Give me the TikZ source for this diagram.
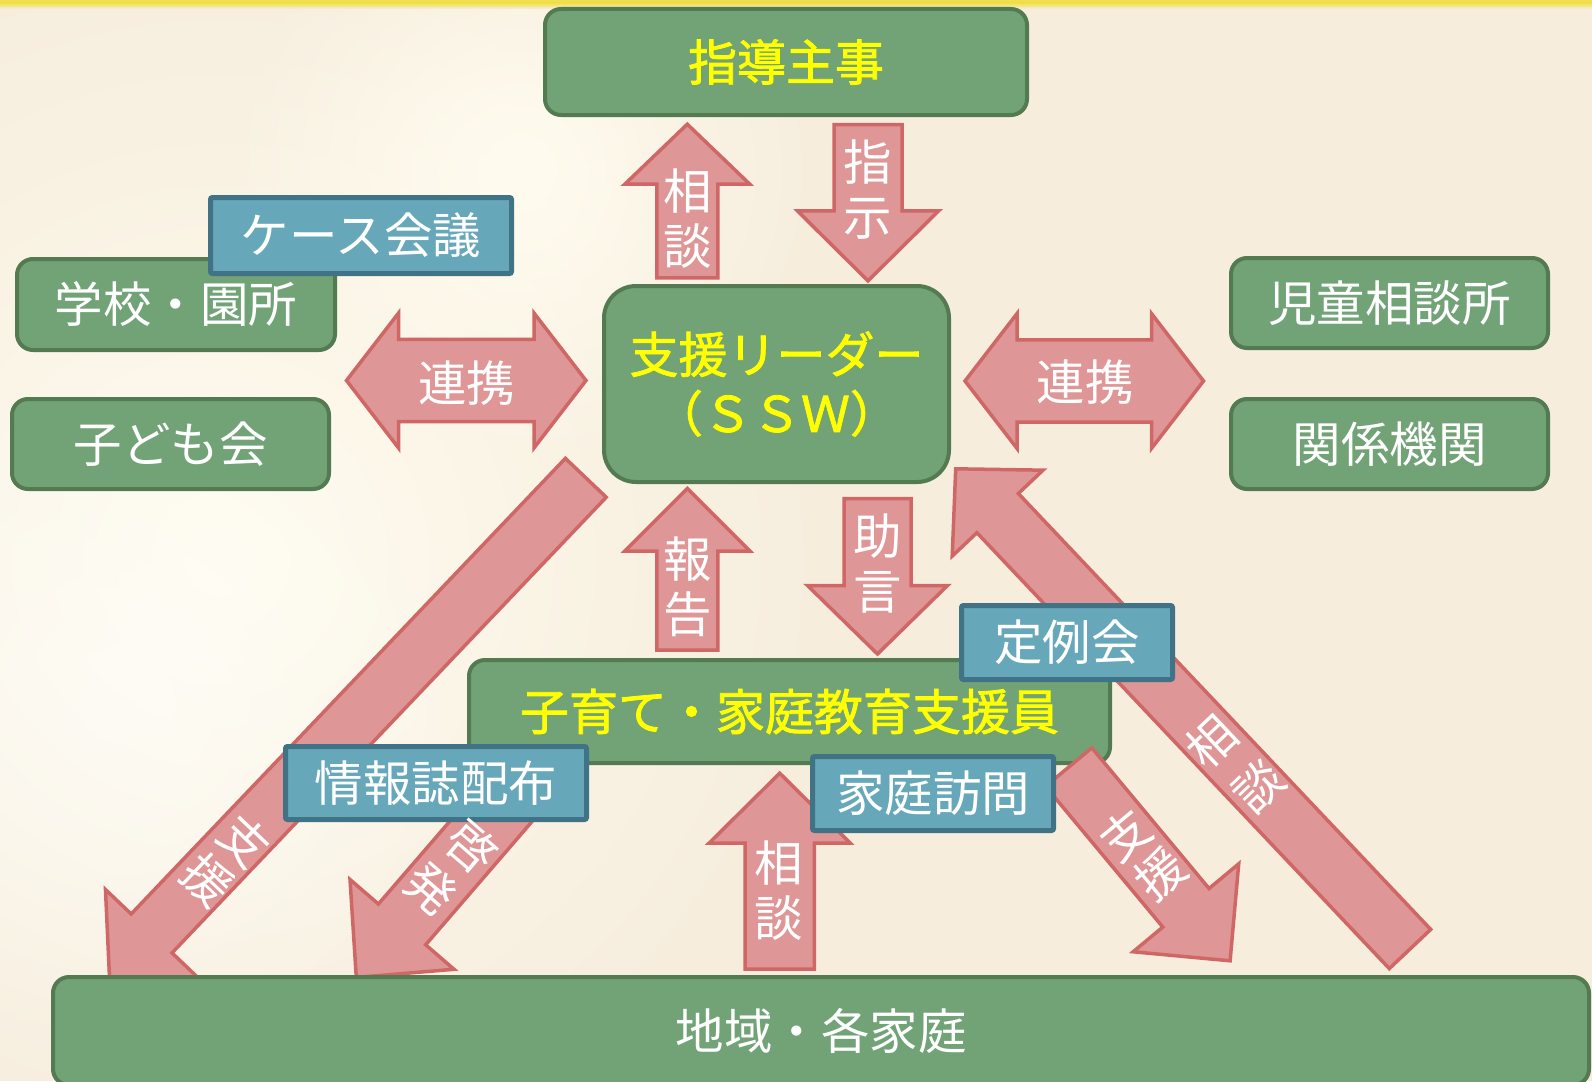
\documentclass[tikz,border=0pt]{standalone}
\usepackage{fontspec}
\setmainfont{Noto Sans CJK JP}
\newfontfamily\yboldfont[FakeBold=1.6]{Noto Sans CJK JP}
\usetikzlibrary{calc,fadings}
\tikzfading[name=myfadeout, inner color=transparent!0, outer color=transparent!100]
\definecolor{gfill}{HTML}{71A377}
\definecolor{gborder}{HTML}{547A51}
\definecolor{bfill}{HTML}{66A7B9}
\definecolor{bborder}{HTML}{3F7385}
\definecolor{afill}{HTML}{DE9696}
\definecolor{aborder}{HTML}{CF6767}
\definecolor{bgbase}{HTML}{F6EDDD}
\definecolor{bglight}{HTML}{FFFCEF}
\definecolor{topband}{HTML}{F0E050}
\definecolor{ytext}{HTML}{FFFF00}
\newcommand{\labfont}{\fontsize{48.5}{55}\selectfont}
\newcommand{\yfont}{\yboldfont\fontsize{49}{59}\selectfont}
% single block arrow: #1 tail centre, #2 tip, #3 half shaft width, #4 half head width, #5 head length
\newcommand{\myblockarrow}[5]{%
  \coordinate (ba-s) at #1; \coordinate (ba-t) at #2;
  \coordinate (ba-b) at ($(ba-t)!#5!(ba-s)$);
  \draw[arrowshape] ($(ba-s)!#3!90:(ba-t)$) -- ($(ba-b)!#3!90:(ba-t)$) -- ($(ba-b)!#4!90:(ba-t)$) -- (ba-t)
    -- ($(ba-b)!#4!-90:(ba-t)$) -- ($(ba-b)!#3!-90:(ba-t)$) -- ($(ba-s)!#3!-90:(ba-t)$) -- cycle;}
% double block arrow: #1 tip A, #2 tip C, #3 half shaft width, #4 half head width, #5 head length
\newcommand{\mydoublearrow}[5]{%
  \coordinate (da-a) at #1; \coordinate (da-c) at #2;
  \coordinate (da-b1) at ($(da-a)!#5!(da-c)$);
  \coordinate (da-b2) at ($(da-c)!#5!(da-a)$);
  \draw[arrowshape] (da-a) -- ($(da-b1)!#4!90:(da-c)$) -- ($(da-b1)!#3!90:(da-c)$) -- ($(da-b2)!#3!90:(da-c)$)
    -- ($(da-b2)!#4!90:(da-c)$) -- (da-c) -- ($(da-b2)!#4!-90:(da-c)$) -- ($(da-b2)!#3!-90:(da-c)$)
    -- ($(da-b1)!#3!-90:(da-c)$) -- ($(da-b1)!#4!-90:(da-c)$) -- cycle;}
\begin{document}
\begin{tikzpicture}[x=1pt,y=-1pt,
  gbox/.style={draw=gborder, fill=gfill, line width=4pt, rounded corners=16pt, inner sep=0pt, outer sep=0pt, text=white, font=\labfont},
  ybox/.style={gbox, text=ytext, font=\yfont, align=center},
  bbox/.style={draw=bborder, fill=bfill, line width=5pt, rounded corners=2pt, inner sep=0pt, outer sep=0pt, text=white, font=\labfont},
  arrowshape/.style={draw=aborder, fill=afill, line width=3.5pt, line join=miter},
  lab/.style={text=white, align=center, inner sep=0pt, font=\labfont},
]
\useasboundingbox (0,0) rectangle (1592,1081);
% background
\fill[bgbase] (0,0) rectangle (1592,1081);
\fill[bglight, path fading=myfadeout] (220,560) circle (620);
\fill[bglight, path fading=myfadeout] (520,170) circle (300);
\fill[white, opacity=0.5, path fading=myfadeout] (120,700) circle (380);
\fill[topband] (0,0) rectangle (1592,3);
\shade[top color=topband, bottom color=bgbase] (0,3) rectangle (1592,9);

% arrows behind the boxes
\myblockarrow{(687.3,277.8)}{(687.3,124.2)}{30.5pt}{62.5pt}{60pt}
\myblockarrow{(868,124.5)}{(868,280.8)}{34pt}{70.7pt}{70pt}
\myblockarrow{(687.3,650)}{(687.3,488.5)}{30.5pt}{62.5pt}{62.5pt}
\myblockarrow{(877.5,498.5)}{(877.5,654)}{33.5pt}{70pt}{68.5pt}
\myblockarrow{(779.7,969)}{(779.7,773.2)}{34.6pt}{70.7pt}{70pt}
\mydoublearrow{(346.5,380.5)}{(586,380.5)}{41.2pt}{67.4pt}{52pt}
\mydoublearrow{(965,381)}{(1203.5,381)}{41.2pt}{67.4pt}{52pt}
\myblockarrow{(585.8,477.8)}{(109.5,977.6)}{28.2pt}{63.7pt}{61pt}
\myblockarrow{(518,790)}{(356.3,977.4)}{31.2pt}{68.7pt}{70pt}
\myblockarrow{(1410,949)}{(955.7,468.8)}{28.5pt}{62.5pt}{61pt}

% green boxes
\node[ybox, minimum width=482pt, minimum height=106pt] (shido) at (786,62) {指導主事};
\node[ybox, rounded corners=32pt, minimum width=345pt, minimum height=196pt] (ssw) at (776.5,384) {支援リーダー\\（ＳＳＷ）};
\node[gbox, minimum width=318pt, minimum height=91pt] (gakko) at (176,304.5) {学校・園所};
\node[gbox, minimum width=317pt, minimum height=90pt] (kodomo) at (170.5,444) {子ども会};
\node[gbox, minimum width=317pt, minimum height=90pt] (jido) at (1389.5,303) {児童相談所};
\node[gbox, minimum width=317pt, minimum height=90pt] (kankei) at (1389.5,444) {関係機関};
\node[ybox, minimum width=641pt, minimum height=103pt] (kosodate) at (789.5,711.5) {子育て・家庭教育支援員};
\node[gbox, minimum width=1536pt, minimum height=108pt] (chiiki) at (821,1031) {地域・各家庭};

% arrow drawn over the green box
\myblockarrow{(1068.7,767.1)}{(1230.1,960.8)}{30.1pt}{68.7pt}{69pt}

% blue boxes
\node[bbox, minimum width=301pt, minimum height=76pt] (case) at (361,235.5) {ケース会議};
\node[bbox, minimum width=211pt, minimum height=74pt] (teirei) at (1067,642.5) {定例会};
\node[bbox, minimum width=301pt, minimum height=73pt] (joho) at (436,783) {情報誌配布};
\node[bbox, minimum width=241pt, minimum height=74pt] (katei) at (933,793.5) {家庭訪問};

% arrow labels
\node[lab] (l-soudan1) at (687.3,218.3) {相\\談};
\node[lab] (l-shiji) at (868,189.2) {指\\示};
\node[lab] (l-hokoku) at (687.3,586.7) {報\\告};
\node[lab] (l-jogen) at (877.3,563.4) {助\\言};
\node[lab] (l-soudan2) at (779,890.8) {相\\談};
\node[lab] (l-renkei1) at (466.7,383.3) {連携};
\node[lab] (l-renkei2) at (1085.4,381.7) {連携};
\node[lab, rotate=-43.6] (l-shien1a) at (245,841) {支};
\node[lab, rotate=-43.6] (l-shien1b) at (208,880) {援};
\node[lab, rotate=-40.8] (l-keihatsua) at (472,847) {啓};
\node[lab, rotate=-40.8] (l-keihatsub) at (431,889) {発};
\node[lab, rotate=39.6] (l-shien2a) at (1125,835) {支};
\node[lab, rotate=39.6] (l-shien2b) at (1160,874) {援};
\node[lab, rotate=43.4] (l-soudan3a) at (1211,741) {相};
\node[lab, rotate=43.4] (l-soudan3b) at (1258,786) {談};
\end{tikzpicture}
\end{document}
